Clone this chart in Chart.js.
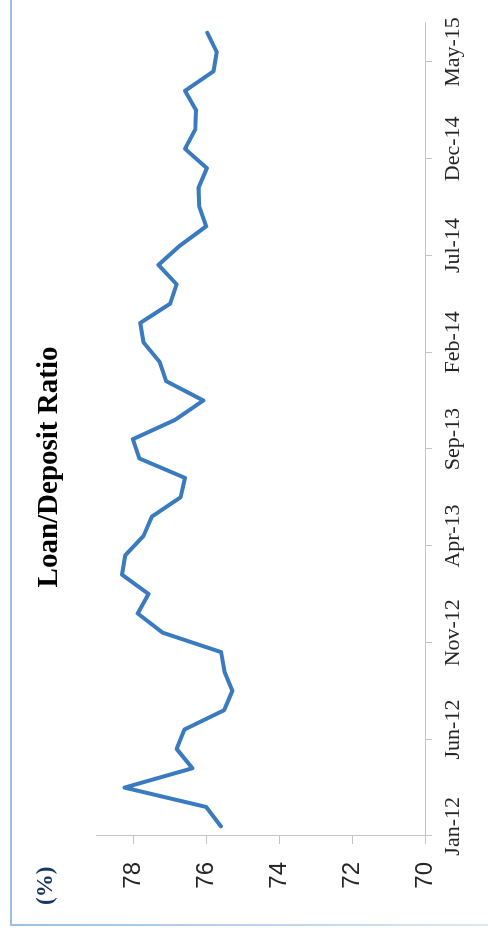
<!DOCTYPE html>
<html>
<head>
<meta charset="utf-8">
<title>Loan/Deposit Ratio</title>
<script src="https://cdn.jsdelivr.net/npm/chart.js@4.4.1/dist/chart.umd.min.js"></script>
<style>
  html, body { margin: 0; padding: 0; background: #ffffff; }
  body { width: 488px; height: 934px; overflow: hidden; position: relative; }
  /* the chart is drawn landscape and turned a quarter to the left */
  #wrap {
    position: absolute; left: 0; top: 0;
    width: 934px; height: 488px;
    transform-origin: 0 0;
    transform: translate(0, 934px) rotate(-90deg);
  }
</style>
</head>
<body>
<div id="wrap"><canvas id="ratioChart" width="934" height="488"></canvas></div>
<script>
/* ---- data ---- */
const months = [
  'Jan-12', 'Feb-12', 'Mar-12', 'Apr-12', 'May-12', 'Jun-12', 'Jul-12', 'Aug-12', 'Sep-12', 'Oct-12', 'Nov-12', 'Dec-12',
  'Jan-13', 'Feb-13', 'Mar-13', 'Apr-13', 'May-13', 'Jun-13', 'Jul-13', 'Aug-13', 'Sep-13', 'Oct-13', 'Nov-13', 'Dec-13',
  'Jan-14', 'Feb-14', 'Mar-14', 'Apr-14', 'May-14', 'Jun-14', 'Jul-14', 'Aug-14', 'Sep-14', 'Oct-14', 'Nov-14', 'Dec-14',
  'Jan-15', 'Feb-15', 'Mar-15', 'Apr-15', 'May-15', 'Jun-15'
];
const loanDepositRatio = [
  75.60, 76.00, 78.24, 76.38, 76.81, 76.60, 75.51, 75.28, 75.50, 75.59, 77.19, 77.88,
  77.58, 78.31, 78.22, 77.72, 77.49, 76.70, 76.58, 77.83, 78.01, 76.85, 76.08, 77.10,
  77.28, 77.72, 77.81, 76.99, 76.81, 77.31, 76.72, 76.00, 76.19, 76.21, 75.98, 76.58,
  76.30, 76.28, 76.58, 75.80, 75.71, 75.97
];
const valueTicks = [70, 72, 74, 76, 78];
const labelEvery = 5;

const axisGrey = '#c4c4c4';
const lineBlue = '#3a7bbf';

/* frame lines and the "(%)" unit label */
const extras = {
  id: 'extras',
  beforeDraw(chart) {
    const { ctx, width, height } = chart;
    ctx.save();
    ctx.fillStyle = '#9dbde3';
    ctx.fillRect(9, 10, width - 9, 2);
    const fade = ctx.createLinearGradient(0, 10, 0, height);
    fade.addColorStop(0, '#9dbde3');
    fade.addColorStop(1, '#dde8f5');
    ctx.fillStyle = fade;
    ctx.fillRect(8, 10, 2, height - 10);
    ctx.restore();
  },
  afterDraw(chart) {
    const { ctx } = chart;
    ctx.save();
    ctx.fillStyle = '#17365d';
    ctx.font = 'bold 23px "Liberation Serif"';
    ctx.textAlign = 'left';
    ctx.textBaseline = 'alphabetic';
    ctx.fillText('(%)', 29, 52);
    ctx.restore();
  }
};

new Chart(document.getElementById('ratioChart'), {
  type: 'line',
  data: {
    labels: months,
    datasets: [{
      label: 'Loan/Deposit Ratio',
      data: loanDepositRatio,
      borderColor: lineBlue,
      borderWidth: 4,
      borderJoinStyle: 'round',
      borderCapStyle: 'round',
      tension: 0,
      pointRadius: 0,
      fill: false
    }]
  },
  options: {
    responsive: false,
    animation: false,
    layout: { padding: { left: 23, right: 23, top: 0, bottom: 0 } },
    plugins: {
      legend: { display: false },
      tooltip: { enabled: false },
      title: {
        display: true,
        text: 'Loan/Deposit Ratio',
        color: '#000000',
        font: { family: 'Liberation Serif', size: 29, weight: 'bold' },
        padding: { top: 32, bottom: 30 }
      }
    },
    scales: {
      x: {
        offset: true,
        grid: {
          offset: true,
          drawOnChartArea: false,
          drawTicks: true,
          tickLength: 7,
          tickColor: (c) => (c.index !== undefined && c.index % labelEvery === 0) ? axisGrey : 'rgba(0,0,0,0)'
        },
        border: { display: true, color: axisGrey, width: 1 },
        ticks: {
          autoSkip: false,
          maxRotation: 0,
          minRotation: 0,
          padding: 8,
          color: '#262626',
          font: { family: 'Liberation Serif', size: 22 },
          callback: function(value, index) {
            return index % labelEvery === 0 ? this.getLabelForValue(value) : '';
          }
        },
        afterFit(scale) { scale.height = 63; }
      },
      y: {
        min: 70,
        max: 79,
        bounds: 'data',
        grid: {
          drawOnChartArea: false,
          drawTicks: true,
          tickLength: 8,
          tickColor: axisGrey
        },
        border: { display: true, color: axisGrey, width: 1 },
        afterBuildTicks(scale) {
          scale.ticks = valueTicks.map(v => ({ value: v }));
        },
        ticks: {
          padding: 18,
          color: '#262626',
          font: { family: 'Liberation Sans', size: 24 }
        },
        afterFit(scale) { scale.width = 75; }
      }
    }
  },
  plugins: [extras]
});
</script>
</body>
</html>
